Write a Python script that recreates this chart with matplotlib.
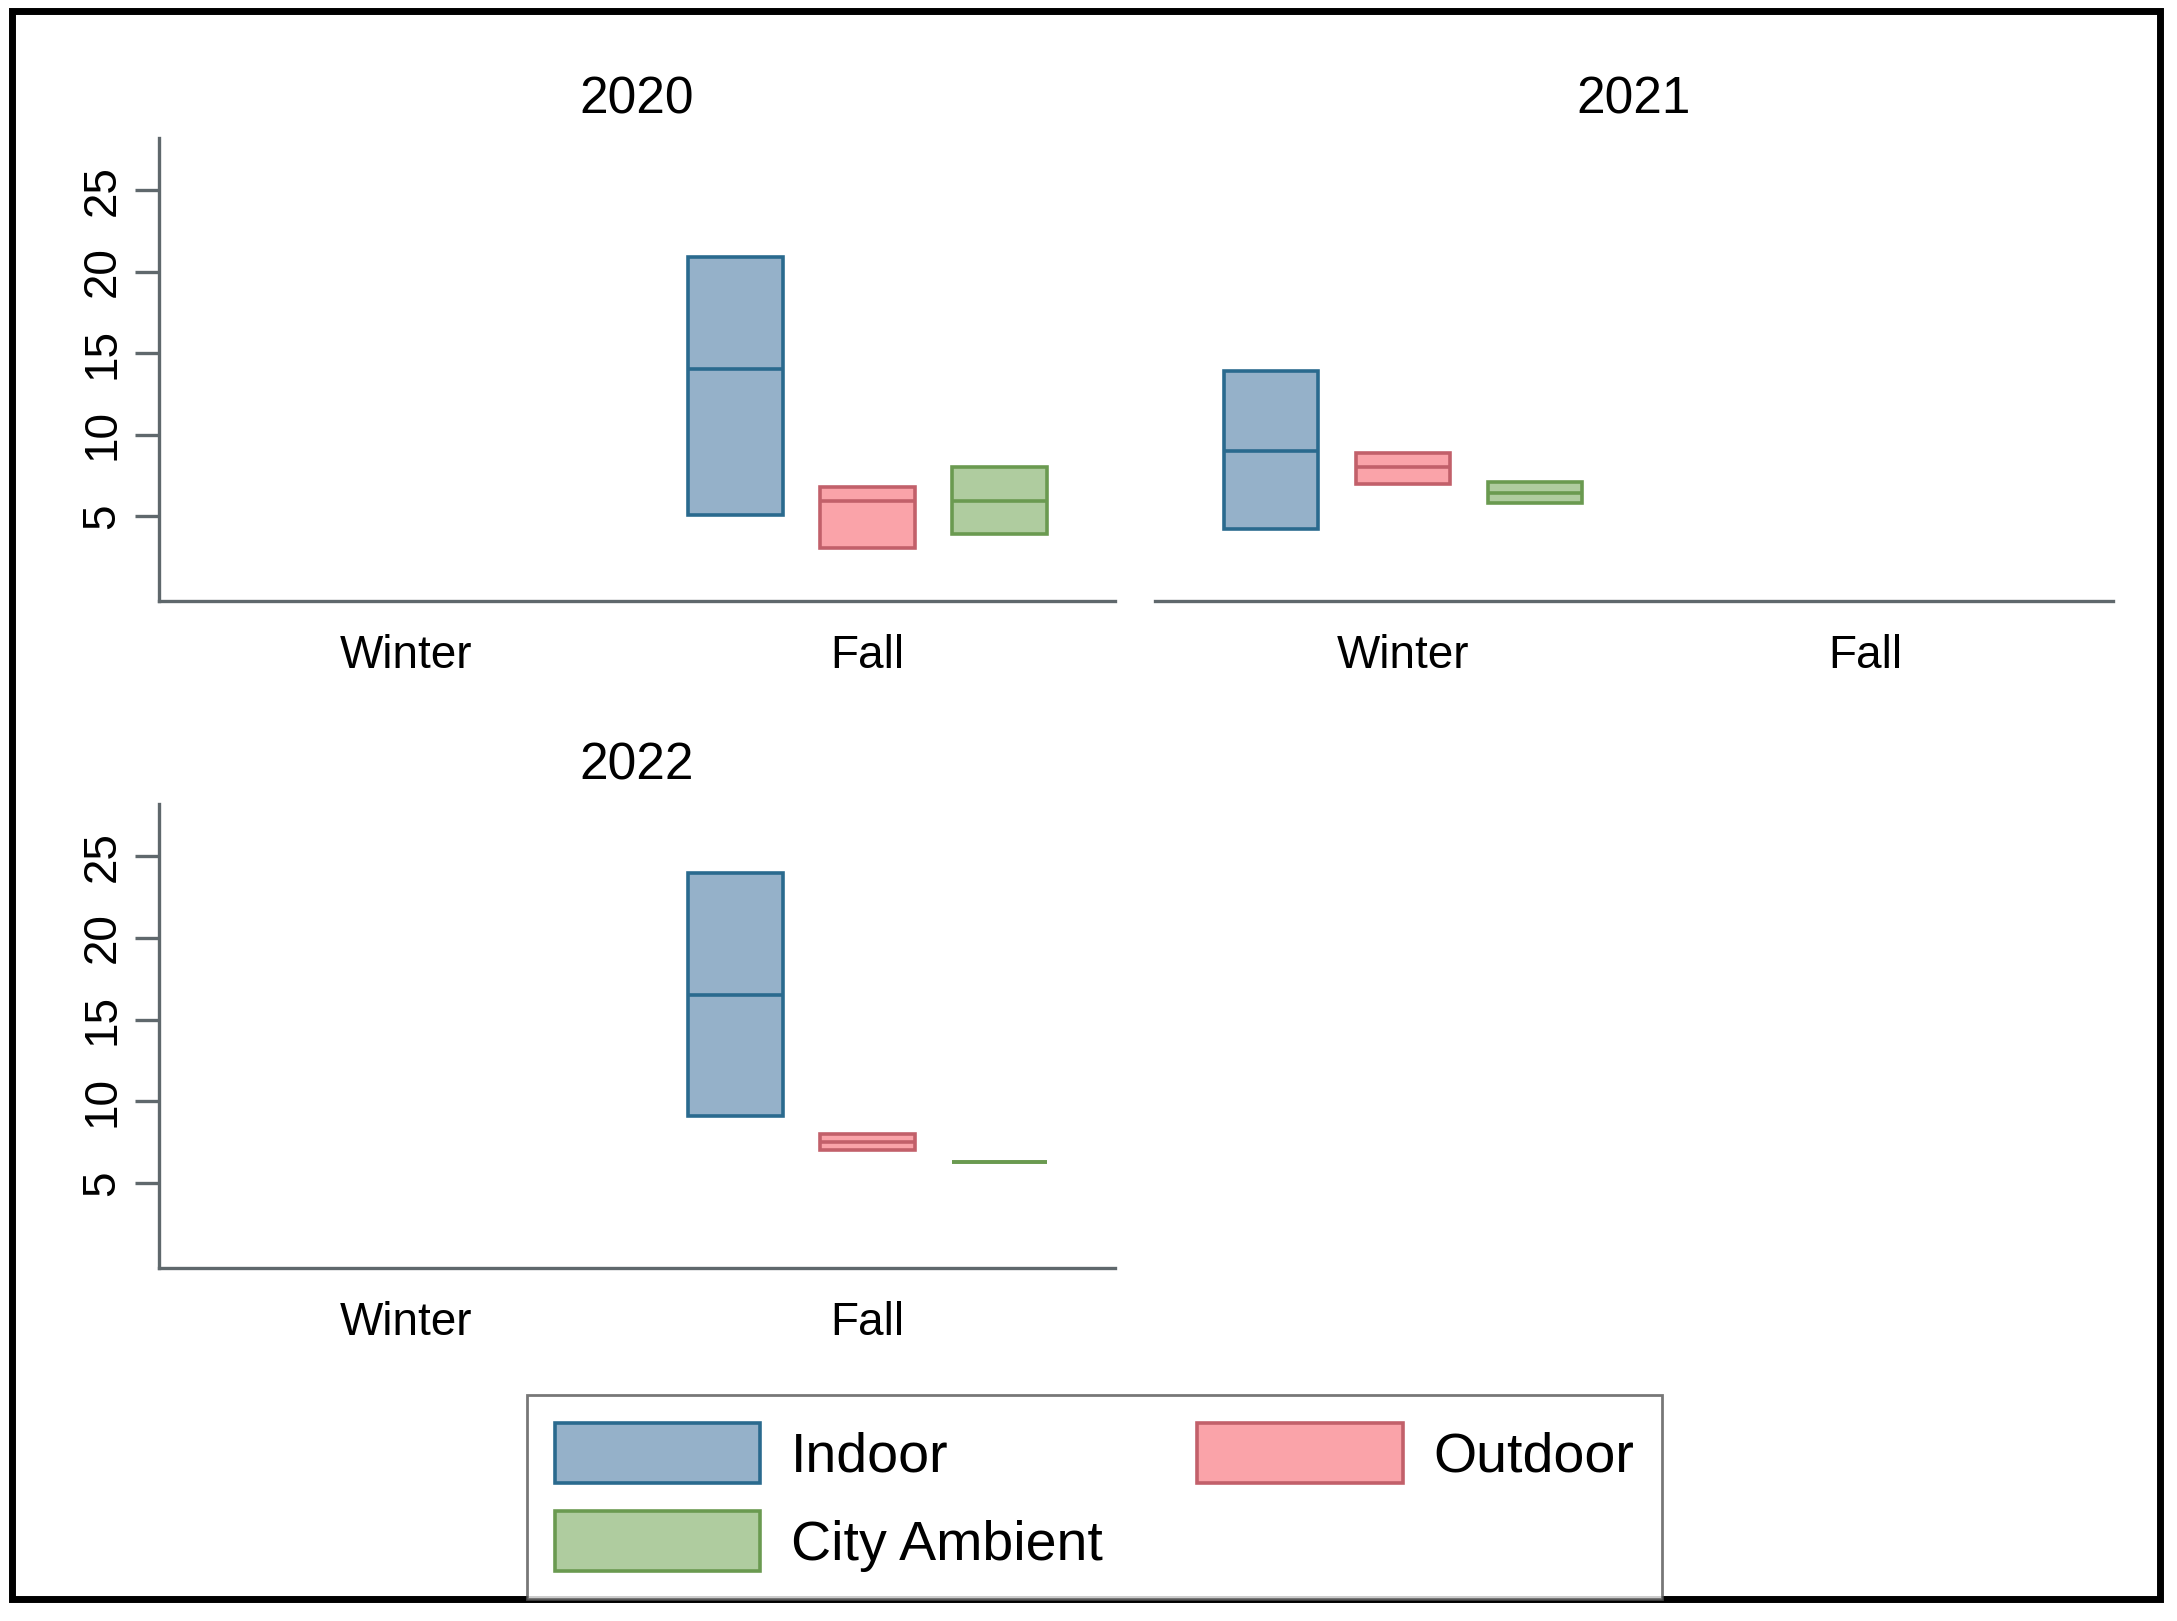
import matplotlib
matplotlib.use("Agg")
import matplotlib.pyplot as plt
from matplotlib.patches import Patch, Rectangle

# Données (boîtes sans moustaches : q1, médiane, q3)
years = ["2020", "2021", "2022"]
seasons = ["Winter", "Fall"]
groups = ["Indoor", "Outdoor", "City Ambient"]
yticks = [5, 10, 15, 20, 25]

# saison où il y a des mesures pour chaque année
season_of_year = ["Fall", "Winter", "Fall"]

q1_2020 = [5.1, 3.05, 3.9]
med_2020 = [14.0, 5.95, 5.95]
q3_2020 = [20.9, 6.8, 8.0]

q1_2021 = [4.2, 7.0, 5.8]
med_2021 = [9.0, 8.0, 6.4]
q3_2021 = [13.9, 8.9, 7.1]

q1_2022 = [9.1, 7.0, 6.3]
med_2022 = [16.5, 7.5, 6.3]
q3_2022 = [24.0, 8.0, 6.3]

q1_all = [q1_2020, q1_2021, q1_2022]
med_all = [med_2020, med_2021, med_2022]
q3_all = [q3_2020, q3_2021, q3_2022]

fills = ["#95b1c9", "#faa3a9", "#afcc9f"]
edges = ["#2a6a8e", "#c2606a", "#6a9a50"]
axis_col = "#5f686c"

plt.rcParams["font.family"] = ["Liberation Sans", "DejaVu Sans"]

W, H = 2177, 1621
fig = plt.figure(figsize=(W / 100, H / 100), dpi=100)

# positions des panneaux (en pixels : gauche, haut, droite, bas)
boxes_px = [(159, 138, 1115, 601), (1155, 138, 2113, 601), (159, 804, 1115, 1268)]

offsets = [-0.286, 0.0, 0.286]
bw = 0.205
lw = 2.6

for i, yr in enumerate(years):
    l, t, r, b = boxes_px[i]
    ax = fig.add_axes([l / W, 1 - b / H, (r - l) / W, (b - t) / H])
    xs = seasons.index(season_of_year[i])
    for g in range(len(groups)):
        x = xs + offsets[g]
        lo, md, hi = q1_all[i][g], med_all[i][g], q3_all[i][g]
        ax.bar(x, hi - lo, bottom=lo, width=bw, color=fills[g],
               edgecolor=edges[g], linewidth=lw, zorder=2)
        ax.hlines(md, x - bw / 2, x + bw / 2, color=edges[g], linewidth=lw, zorder=3)

    ax.set_xlim(-0.537, 1.537)
    ax.set_ylim(-0.2, 28.2)
    ax.set_xticks(range(len(seasons)))
    ax.set_xticklabels(seasons, fontsize=33)
    ax.tick_params(axis="x", length=0, pad=24)
    ax.set_title(yr, fontsize=37, pad=18)
    for s in ["top", "right"]:
        ax.spines[s].set_visible(False)
    ax.spines["bottom"].set_color(axis_col)
    ax.spines["bottom"].set_linewidth(2.4)
    if i == 1:
        ax.spines["left"].set_visible(False)
        ax.set_yticks([])
    else:
        ax.spines["left"].set_color(axis_col)
        ax.spines["left"].set_linewidth(2.4)
        ax.set_yticks(yticks)
        ax.set_yticklabels([str(v) for v in yticks], fontsize=33, rotation=90, va="center")
        ax.tick_params(axis="y", length=17, width=2.4, color=axis_col, pad=8)

# légende (ordre colonne par colonne pour obtenir Indoor / Outdoor sur la 1re ligne)
order = [0, 2, 1]
handles = [Patch(facecolor=fills[g], edgecolor=edges[g], linewidth=lw, label=groups[g]) for g in order]
leg = fig.legend(handles=handles, loc="upper left", bbox_to_anchor=(527 / W, 1 - 1395 / H),
                 ncol=2, fontsize=40, frameon=True, fancybox=False, borderaxespad=0,
                 handlelength=3.7, handleheight=1.28, handletextpad=0.55,
                 columnspacing=1.7, labelspacing=0.5, borderpad=0.5)
leg.get_frame().set_edgecolor("#555555")
leg.get_frame().set_linewidth(2)

# cadre noir autour de l'image
fig.patches.append(Rectangle((12 / W, 1 - 1599 / H), 2148 / W, 1588 / H,
                             transform=fig.transFigure, fill=False,
                             edgecolor="black", linewidth=5))

fig.savefig("out.png", dpi=100, facecolor="white")
